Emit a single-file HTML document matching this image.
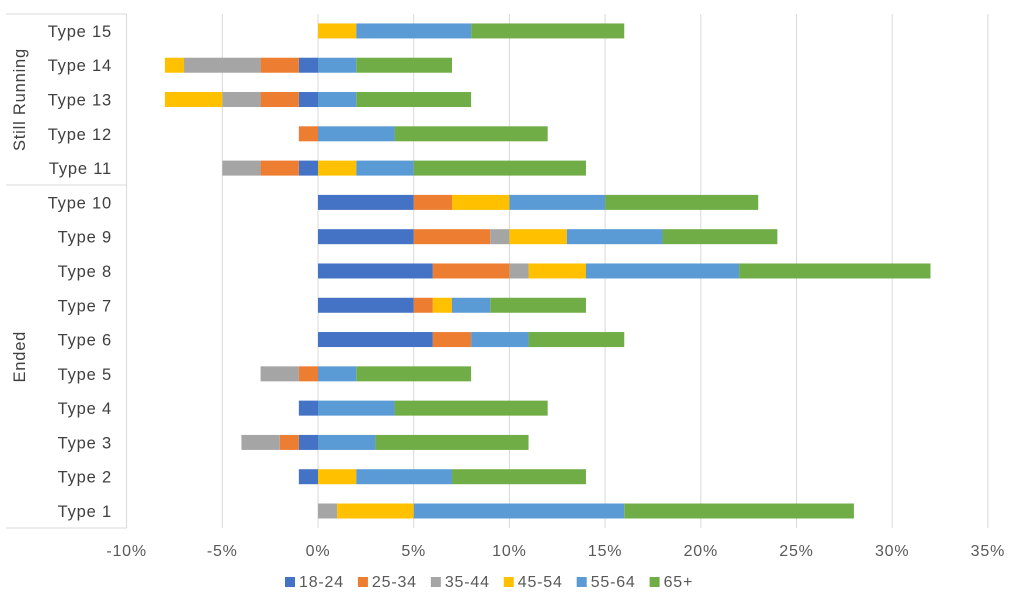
<!DOCTYPE html>
<html><head><meta charset="utf-8"><style>
body{margin:0;background:#fff;}
svg{display:block;font-family:"Liberation Sans",sans-serif;}
text{letter-spacing:0.8px;}
</style></head><body>
<svg id="c" width="1022" height="606"></svg>
<script>
const categories=["Type 1","Type 2","Type 3","Type 4","Type 5","Type 6","Type 7","Type 8","Type 9","Type 10","Type 11","Type 12","Type 13","Type 14","Type 15"];
const seriesNames=["18-24","25-34","35-44","45-54","55-64","65+"];
const colors=["#4472C4","#ED7D31","#A5A5A5","#FFC000","#5B9BD5","#70AD47"];
const s1824=[0,-1,-1,-1,0,6,5,6,5,5,-1,0,-1,-1,0];
const s2534=[0,0,-1,0,-1,2,1,4,4,2,-2,-1,-2,-2,0];
const s3544=[1,0,-2,0,-2,0,0,1,1,0,-2,0,-2,-4,0];
const s4554=[4,2,0,0,0,0,1,3,3,3,2,0,-3,-1,2];
const s5564=[11,5,3,4,2,3,2,8,5,5,3,4,2,2,6];
const s65=[12,7,8,8,6,5,5,10,6,8,9,8,6,5,8];
const xTicks=[-10,-5,0,5,10,15,20,25,30,35];
const groups=[{name:"Ended",from:0,to:9},{name:"Still Running",from:10,to:14}];
const series=[s1824,s2534,s3544,s4554,s5564,s65];

const NS="http://www.w3.org/2000/svg";
const svg=document.getElementById("c");
const x=v=>318+(v)*19.14;
const y=i=>511-i*34.29;
function el(t,a,p){const e=document.createElementNS(NS,t);for(const k in a)e.setAttribute(k,a[k]);(p||svg).appendChild(e);return e;}

xTicks.forEach(t=>{
  const g=el("line",{x1:x(t),x2:x(t),y1:14,y2:528,stroke:"#d9d9d9","stroke-width":1});
  
  
  const l=el("text",{x:x(t),y:556,"text-anchor":"middle","font-size":16,fill:"#595959"});
  l.textContent=t+"%";
  
  
});
[[6,14,127,14],[6,185,127,185],[6,528,127,528]].forEach(a=>{
  const e=el("line",{x1:a[0],y1:a[1],x2:a[2],y2:a[3],stroke:"#d9d9d9"});
  
  
});
categories.forEach((c,i)=>{
  const t=el("text",{x:112,y:y(i)+6,"text-anchor":"end","font-size":16.5,fill:"#404040"});
  t.textContent=c;
  
  
  let pos=0,neg=0;
  series.forEach((s,k)=>{
    const v=s[i]; if(!v) return;
    let a,b;
    if(v>0){a=pos;b=pos+v;pos=b;}else{a=neg+v;b=neg;neg=a;}
    const r=el("rect",{x:x(a),y:y(i)-7.5,width:x(b)-x(a),height:15,fill:colors[k]});
    
    
  });
});
groups.forEach(g=>{
  const cy=(y(g.from)+y(g.to))/2;
  const t=el("text",{x:0,y:0,transform:`translate(25,${cy}) rotate(-90)`,"text-anchor":"middle","font-size":16.5,fill:"#404040"});
  t.textContent=g.name;
  
  
});
let lx=285;
seriesNames.forEach((n,k)=>{
  const r=el("rect",{x:lx,y:577,width:10,height:10,fill:colors[k]});
  
  
  const t=el("text",{x:lx+14,y:587,"font-size":16,fill:"#595959"});
  t.textContent=n;
  
  
  lx+=14+t.getComputedTextLength()+14;
});
</script>
</body></html>
